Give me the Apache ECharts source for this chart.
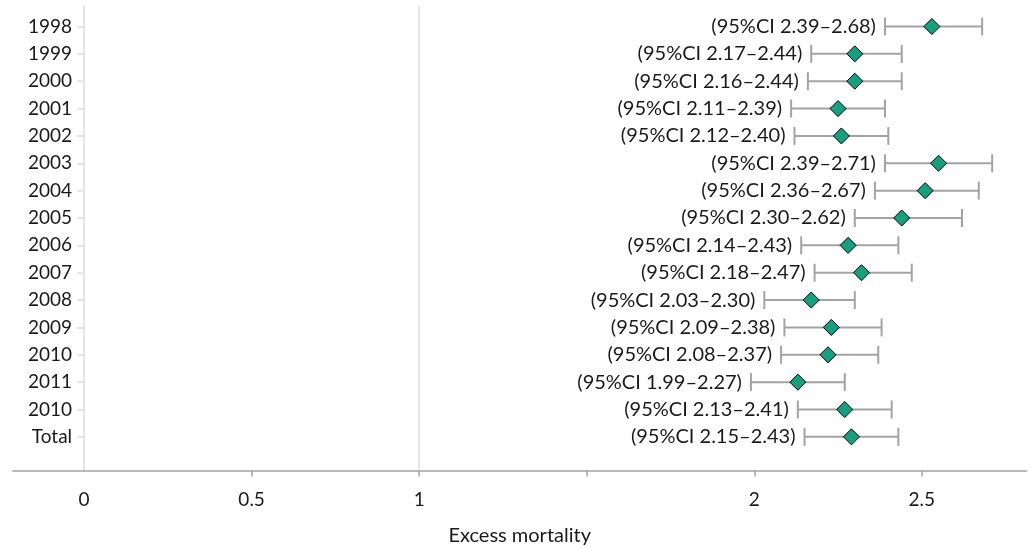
<!DOCTYPE html>
<html><head><meta charset="utf-8">
<script src="https://cdn.jsdelivr.net/npm/echarts@6/dist/echarts.min.js"></script>
<style>html,body{margin:0;padding:0;background:#fff}#c{width:1034px;height:549px}</style>
</head><body><div id="c"></div>
<script>
const categories = ['1998','1999','2000','2001','2002','2003','2004','2005','2006','2007','2008','2009','2010','2011','2010','Total'];
const estimates = [2.53,2.30,2.30,2.25,2.26,2.55,2.51,2.44,2.28,2.32,2.17,2.23,2.22,2.13,2.27,2.29];
const ciLower   = [2.39,2.17,2.16,2.11,2.12,2.39,2.36,2.30,2.14,2.18,2.03,2.09,2.08,1.99,2.13,2.15];
const ciUpper   = [2.68,2.44,2.44,2.39,2.40,2.71,2.67,2.62,2.43,2.47,2.30,2.38,2.37,2.27,2.41,2.43];
const xTickValues = [0.5, 1, 1.5, 2, 2.5];
const xLabelValues = [0, 0.5, 1, 2, 2.5];
const referenceValue = 1;
const axisTitle = 'Excess mortality';

const FONT = 'Lato';
const rowIdx = categories.map((_, i) => i);
const ciData = rowIdx.map(i => [i, ciLower[i], ciUpper[i]]);
const pointData = rowIdx.map(i => [estimates[i], i]);

const GRID_LEFT = 12.7, GRID_RIGHT = 7.3;
const X_MIN = -0.213, X_MAX = 2.813;
const plotW = 1034 - GRID_LEFT - GRID_RIGHT;
const zeroOffset = (0 - X_MIN) / (X_MAX - X_MIN) * plotW;

const chart = echarts.init(document.getElementById('c'), null, {renderer: 'canvas'});
chart.setOption({
  animation: false,
  backgroundColor: '#fff',
  textStyle: {fontFamily: FONT},
  grid: {left: GRID_LEFT, right: GRID_RIGHT, top: 6, bottom: 78.5, containLabel: false, outerBoundsMode: 'none'},
  xAxis: {
    type: 'value', min: X_MIN, max: X_MAX, position: 'bottom',
    axisLine: {show: true, onZero: false, lineStyle: {color: '#a3a3a3', width: 1.5}},
    axisTick: {show: true, customValues: xTickValues, length: 6, lineStyle: {color: '#a3a3a3', width: 1.5}},
    axisLabel: {customValues: xLabelValues, margin: 20, fontSize: 19, color: '#1a1a1a', fontFamily: FONT},
    splitLine: {show: false},
    name: axisTitle, nameLocation: 'middle', nameGap: 55,
    nameTextStyle: {fontSize: 20, color: '#1a1a1a', fontFamily: FONT}
  },
  yAxis: {
    type: 'value', inverse: true, min: -0.75, max: 16.23,
    position: 'left', offset: -zeroOffset,
    axisLine: {show: true, onZero: false, lineStyle: {color: '#dcdcdc', width: 1.5}},
    axisTick: {show: true, customValues: rowIdx, length: 7, lineStyle: {color: '#dcdcdc', width: 1.5}},
    axisLabel: {customValues: rowIdx, formatter: v => categories[Math.round(v)], margin: 12,
      fontSize: 19, color: '#1a1a1a', fontFamily: FONT},
    splitLine: {show: false}
  },
  series: [
    {
      type: 'custom',
      data: ciData,
      encode: {x: [1, 2], y: 0},
      z: 2,
      renderItem: function (params, api) {
        const row = api.value(0), lo = api.value(1), hi = api.value(2);
        const p1 = api.coord([lo, row]);
        const p2 = api.coord([hi, row]);
        const cap = 9;
        const stroke = {stroke: '#a3a3a3', lineWidth: 2};
        return {
          type: 'group',
          children: [
            {type: 'line', shape: {x1: p1[0], y1: p1[1], x2: p2[0], y2: p2[1]}, style: stroke},
            {type: 'line', shape: {x1: p1[0], y1: p1[1] - cap, x2: p1[0], y2: p1[1] + cap}, style: stroke},
            {type: 'line', shape: {x1: p2[0], y1: p2[1] - cap, x2: p2[0], y2: p2[1] + cap}, style: stroke},
            {type: 'text', style: {
              text: '(95%CI ' + lo.toFixed(2) + '\u2013' + hi.toFixed(2) + ')',
              x: p1[0] - 9, y: p1[1], align: 'right', verticalAlign: 'middle',
              fontSize: 20, fontFamily: FONT, fill: '#1a1a1a'}}
          ]
        };
      },
      markLine: {
        silent: true, symbol: 'none', label: {show: false},
        lineStyle: {color: '#dcdcdc', type: 'solid', width: 1.5},
        data: [{xAxis: referenceValue}]
      }
    },
    {
      type: 'scatter',
      data: pointData,
      symbol: 'diamond',
      symbolSize: [16, 16],
      z: 3,
      itemStyle: {color: '#17a080', borderColor: '#000', borderWidth: 1, opacity: 1}
    }
  ]
});
</script>
</body></html>
